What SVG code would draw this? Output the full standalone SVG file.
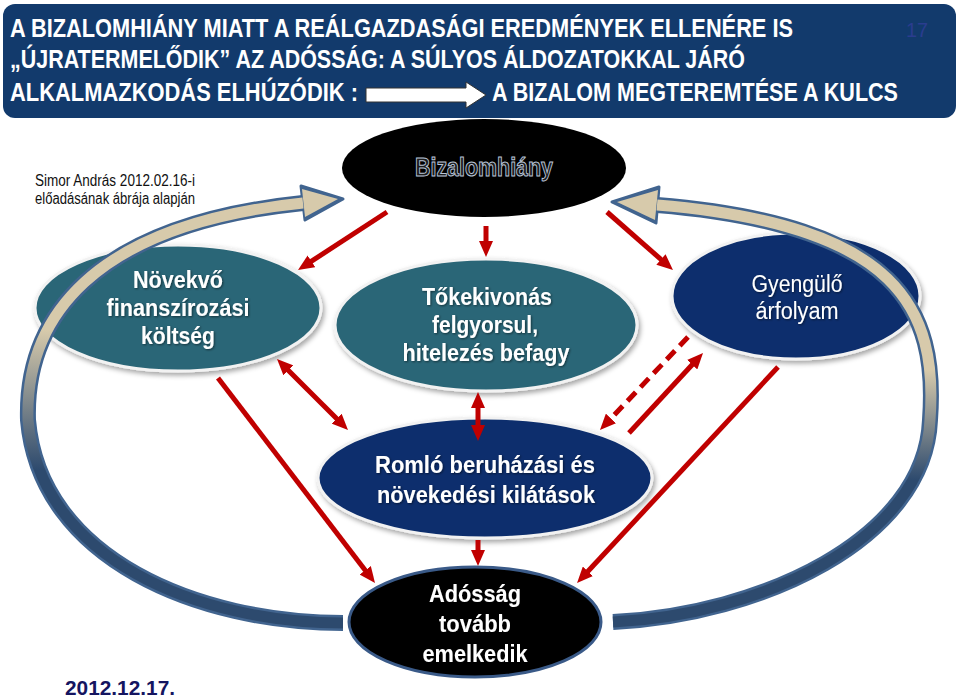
<svg xmlns="http://www.w3.org/2000/svg" width="960" height="700" viewBox="0 0 960 700">
<defs>
<style>
.hd{font-family:"Liberation Sans",Arial,sans-serif;font-weight:bold;font-size:25px;fill:#fff}
.nt{font-family:"Liberation Sans",Arial,sans-serif;font-weight:bold;fill:#fff;text-anchor:middle;filter:url(#ts)}
.rg{font-weight:normal}
.red{stroke:#c00000;stroke-width:5;fill:none}
.teal{fill:#2b6677;stroke:#f2f2f2;stroke-width:3;filter:url(#sh)}
.navy{fill:#0d2f6d;stroke:#f2f2f2;stroke-width:3;filter:url(#sh)}
</style>
<filter id="sh" x="-10%" y="-15%" width="125%" height="140%"><feDropShadow dx="2" dy="3" stdDeviation="2.5" flood-color="#000" flood-opacity="0.35"/></filter>
<filter id="ts" x="-5%" y="-20%" width="115%" height="150%"><feDropShadow dx="1" dy="1" stdDeviation="0.8" flood-color="#000" flood-opacity="0.5"/></filter>
<marker id="ah" viewBox="0 0 16 14" markerWidth="16" markerHeight="14" markerUnits="userSpaceOnUse" refX="3" refY="7" orient="auto-start-reverse"><path d="M0,0 L16,7 L0,14 z" fill="#c00000"/></marker>
<linearGradient id="gl" gradientUnits="userSpaceOnUse" x1="0" y1="330" x2="0" y2="470"><stop offset="0" stop-color="#d7caab"/><stop offset="1" stop-color="#2d4a6e"/></linearGradient>
<linearGradient id="gr" gradientUnits="userSpaceOnUse" x1="0" y1="370" x2="0" y2="480"><stop offset="0" stop-color="#d7caab"/><stop offset="1" stop-color="#2d4a6e"/></linearGradient>
</defs>
<rect width="960" height="700" fill="#fff"/>
<g id="header">
<rect x="3" y="4" width="953" height="114" rx="12" fill="#123a6c"/>
<text class="hd" x="10" y="37" textLength="783" lengthAdjust="spacingAndGlyphs">A BIZALOMHIÁNY MIATT A REÁLGAZDASÁGI EREDMÉNYEK ELLENÉRE IS</text>
<text class="hd" x="10" y="68" textLength="735" lengthAdjust="spacingAndGlyphs">„ÚJRATERMELŐDIK” AZ ADÓSSÁG: A SÚLYOS ÁLDOZATOKKAL JÁRÓ</text>
<text class="hd" x="10" y="101" textLength="348" lengthAdjust="spacingAndGlyphs">ALKALMAZKODÁS ELHÚZÓDIK :</text>
<polygon points="366,88 466,88 466,82 486,95 466,108 466,102 366,102" fill="#fff" stroke="#333" stroke-width="1"/>
<text class="hd" x="492" y="101" textLength="406" lengthAdjust="spacingAndGlyphs">A BIZALOM MEGTEREMTÉSE A KULCS</text>
<text x="906" y="37" font-family="Liberation Sans, Arial, sans-serif" font-size="20" fill="#2a3d8f" textLength="22" lengthAdjust="spacingAndGlyphs">17</text>
</g>
<g id="source">
<text font-family="Liberation Sans, Arial, sans-serif" font-size="16" fill="#111"><tspan x="35" y="186" textLength="160" lengthAdjust="spacingAndGlyphs">Simor András 2012.02.16-i</tspan><tspan x="35" y="204" textLength="160" lengthAdjust="spacingAndGlyphs">előadásának ábrája alapján</tspan></text>
</g>
<g id="date">
<text x="65" y="695" font-family="Liberation Sans, Arial, sans-serif" font-weight="bold" font-size="20" fill="#151560" textLength="110" lengthAdjust="spacingAndGlyphs">2012.12.17.</text>
</g>
<g id="novekvo">
<ellipse class="teal" cx="178" cy="308" rx="143" ry="63"/>
<text class="nt" font-size="23"><tspan x="178" y="288" textLength="90" lengthAdjust="spacingAndGlyphs">Növekvő</tspan><tspan x="178" y="316" textLength="143" lengthAdjust="spacingAndGlyphs">finanszírozási</tspan><tspan x="178" y="344" textLength="74" lengthAdjust="spacingAndGlyphs">költség</tspan></text>
</g>
<g id="tokekivonas">
<ellipse class="teal" cx="486" cy="325" rx="151" ry="66"/>
<text class="nt" font-size="23"><tspan x="487" y="305" textLength="130" lengthAdjust="spacingAndGlyphs">Tőkekivonás</tspan><tspan x="485" y="333" textLength="106" lengthAdjust="spacingAndGlyphs">felgyorsul,</tspan><tspan x="486" y="361" textLength="167" lengthAdjust="spacingAndGlyphs">hitelezés befagy</tspan></text>
</g>
<g id="gyengulo">
<ellipse class="navy" cx="796" cy="296" rx="124" ry="63"/>
<text class="nt rg" font-size="23"><tspan x="797" y="292" textLength="91" lengthAdjust="spacingAndGlyphs">Gyengülő</tspan><tspan x="797" y="319" textLength="83" lengthAdjust="spacingAndGlyphs">árfolyam</tspan></text>
</g>
<g id="romlo">
<ellipse class="navy" cx="485" cy="478" rx="167" ry="60"/>
<text class="nt" font-size="23"><tspan x="485" y="473" textLength="220" lengthAdjust="spacingAndGlyphs">Romló beruházási és</tspan><tspan x="486" y="503" textLength="218" lengthAdjust="spacingAndGlyphs">növekedési kilátások</tspan></text>
</g>
<g id="connectors">
<g id="arc-left">
<path d="M343,623 C200,623 40,560 28,420 C25,320 90,225 303,203" fill="none" stroke="#41648f" stroke-width="16"/>
<polygon points="301,186 343,199 305,220" fill="#41648f" stroke="#41648f" stroke-width="3" stroke-linejoin="round"/>
<path d="M343,623 C200,623 40,560 28,420 C25,320 90,225 303,203" fill="none" stroke="url(#gl)" stroke-width="11"/>
<polygon points="302,189 338,199 305,217" fill="#d7caab"/>
</g>
<g id="arc-right">
<path d="M613,622 C760,615 925,540 930,420 C938,310 900,225 657,205" fill="none" stroke="#41648f" stroke-width="16"/>
<polygon points="659,187 612,202 656,223" fill="#41648f" stroke="#41648f" stroke-width="3" stroke-linejoin="round"/>
<path d="M613,622 C760,615 925,540 930,420 C938,310 900,225 657,205" fill="none" stroke="url(#gr)" stroke-width="11"/>
<polygon points="658,190 617,202 655,220" fill="#d7caab"/>
</g>
<line class="red" x1="387" y1="212" x2="308.9" y2="262.9" marker-end="url(#ah)"/>
<line class="red" x1="486" y1="226" x2="486" y2="244" marker-end="url(#ah)"/>
<line class="red" x1="607" y1="212" x2="663.2" y2="261.4" marker-end="url(#ah)"/>
<line class="red" x1="286.2" y1="368.2" x2="338.8" y2="420.8" marker-start="url(#ah)" marker-end="url(#ah)"/>
<line class="red" x1="478" y1="405" x2="478" y2="428" marker-start="url(#ah)" marker-end="url(#ah)"/>
<line class="red" x1="688" y1="337" x2="608.9" y2="420.6" stroke-dasharray="12 7" marker-end="url(#ah)"/>
<line class="red" x1="629" y1="433" x2="694.2" y2="362.5" marker-end="url(#ah)"/>
<line class="red" x1="778" y1="367" x2="585.9" y2="573.5" marker-end="url(#ah)"/>
<line class="red" x1="218" y1="378" x2="367.1" y2="572.7" marker-end="url(#ah)"/>
<line class="red" x1="478" y1="540" x2="478" y2="553" marker-end="url(#ah)"/>
</g>
<g id="bizalomhiany">
<ellipse cx="484" cy="168" rx="142" ry="49" fill="#000"/>
<text x="484" y="176" text-anchor="middle" font-family="Liberation Sans, Arial, sans-serif" font-weight="bold" font-size="25" fill="#1b1b1b" stroke="#b8c4d8" stroke-width="1" textLength="138" lengthAdjust="spacingAndGlyphs">Bizalomhiány</text>
</g>
<g id="adossag">
<ellipse cx="475" cy="622" rx="126" ry="55" fill="#000" stroke="#3a5a88" stroke-width="3"/>
<text class="nt" font-size="24"><tspan x="475" y="602" textLength="92" lengthAdjust="spacingAndGlyphs">Adósság</tspan><tspan x="475" y="632" textLength="72" lengthAdjust="spacingAndGlyphs">tovább</tspan><tspan x="475" y="662" textLength="105" lengthAdjust="spacingAndGlyphs">emelkedik</tspan></text>
</g>
</svg>
